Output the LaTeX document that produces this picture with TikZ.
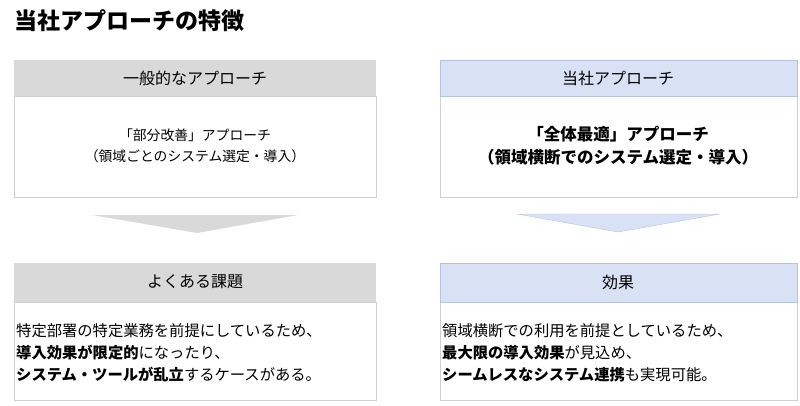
\documentclass[tikz,border=0pt]{standalone}
\usepackage{fontspec}
\setmainfont{Noto Sans CJK JP}
\definecolor{hgray}{HTML}{D9D9D9}
\definecolor{hblue}{HTML}{D9E1F4}
\definecolor{bline}{HTML}{D0D0D0}
\definecolor{blline}{HTML}{B4C3E6}
\begin{document}
\begin{tikzpicture}[x=1pt,y=-1pt,
  hdr/.style={font=\fontsize{16}{18}\selectfont},
  txt/.style={font=\fontsize{15.3}{22}\selectfont,align=left,anchor=west},
  ctxt/.style={font=\fontsize{13.8}{21}\selectfont,align=center}]
\useasboundingbox (0,0) rectangle (800,405);
\node[anchor=west,font=\fontsize{23}{26}\selectfont\bfseries,inner sep=0pt] (title) at (14,21) {当社アプローチの特徴};
% left top
\draw[bline,fill=white] (14,96) rectangle (376,197);
\fill[hgray] (14,60) rectangle (376,96);
\node[hdr] (lh) at (195,78) {一般的なアプローチ};
\node[ctxt] (lb) at (195,146) {「部分改善」アプローチ\\（領域ごとのシステム選定・導入）};
\fill[hgray] (92,215) -- (298,215) -- (197,233) -- cycle;
% left bottom
\draw[bline,fill=white] (14,302) rectangle (376,400);
\fill[hgray] (14,263) rectangle (376,302);
\node[hdr] (lh2) at (195,282) {よくある課題};
\node[txt,inner sep=0pt] (lb2) at (16,353) {特定部署の特定業務を前提にしているため、\\{\bfseries 導入効果が限定的}になったり、\\{\bfseries システム・ツールが乱立}するケースがある。};
% right top
\draw[bline,fill=white] (440,96) rectangle (797,197);
\draw[blline,fill=hblue] (440,60) rectangle (797,96);
\node[hdr] (rh) at (618,78) {当社アプローチ};
\node[ctxt,font=\fontsize{16.5}{23}\selectfont\bfseries] (rb) at (618,146) {「全体最適」アプローチ\\（領域横断でのシステム選定・導入）};
\draw[blline,fill=hblue] (517,214) -- (720,214) -- (618,232) -- cycle;
% right bottom
\draw[bline,fill=white] (440,302) rectangle (797,400);
\draw[blline,fill=hblue] (440,263) rectangle (797,302);
\node[hdr] (rh2) at (618,282) {効果};
\node[txt,inner sep=0pt] (rb2) at (442,353) {領域横断での利用を前提としているため、\\{\bfseries 最大限の導入効果}が見込め、\\{\bfseries シームレスなシステム連携}も実現可能。};
\end{tikzpicture}
\end{document}
